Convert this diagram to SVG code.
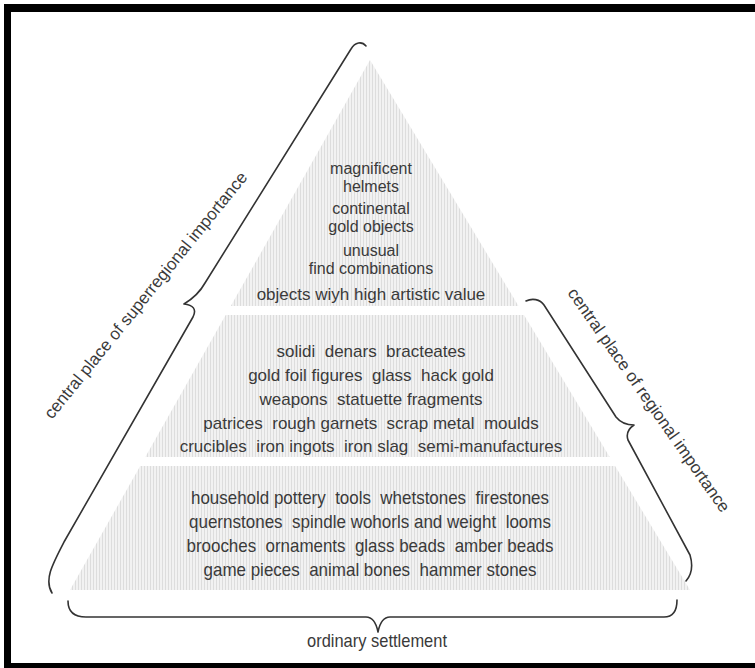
<svg xmlns="http://www.w3.org/2000/svg" width="755" height="668" viewBox="0 0 755 668">
<defs>
<pattern id="hatch" width="3" height="10" patternUnits="userSpaceOnUse">
<rect width="3" height="10" fill="#f2f2f2"/>
<rect width="1" height="10" fill="#dddddd"/>
</pattern>
<style>
.t{font-family:"Liberation Sans",Arial,sans-serif;font-size:17px;fill:#3a3a3a;text-anchor:middle}
.s{font-size:16px}
.n{font-family:"Liberation Sans Narrow","Liberation Sans",Arial,sans-serif;font-size:19px;fill:#3a3a3a;text-anchor:middle}
.lab{font-family:"Liberation Sans",Arial,sans-serif;font-size:17px;fill:#3a3a3a}
.brace{fill:none;stroke:#333;stroke-width:1.6;stroke-linecap:round;stroke-linejoin:round}
.band{fill:url(#hatch)}
</style>
</defs>
<rect width="755" height="668" fill="#fff"/>
<path id="frame" d="M4,4H755V12H11V663H755V668H4Z" fill="#000"/>

<g id="band-top">
<polygon class="band" points="370,60 518.5,306 230.8,306"/>
<text class="t s" x="371" y="174">magnificent</text>
<text class="t s" x="371" y="192">helmets</text>
<text class="t s" x="371" y="214">continental</text>
<text class="t s" x="371" y="232">gold objects</text>
<text class="t s" x="371" y="256">unusual</text>
<text class="t s" x="371" y="274">find combinations</text>
<text class="t" x="371" y="300">objects wiyh high artistic value</text>
</g>

<g id="band-middle">
<polygon class="band" points="225.7,315 524,315 609.7,457 145.3,457"/>
<text class="t" x="371" y="357" xml:space="preserve">solidi  denars  bracteates</text>
<text class="t" x="371" y="381" xml:space="preserve">gold foil figures  glass  hack gold</text>
<text class="t" x="371" y="405" xml:space="preserve">weapons  statuette fragments</text>
<text class="t" x="371" y="429" xml:space="preserve">patrices  rough garnets  scrap metal  moulds</text>
<text class="t" x="371" y="452" xml:space="preserve">crucibles  iron ingots  iron slag  semi-manufactures</text>
</g>

<g id="band-bottom">
<polygon class="band" points="140.2,466 615.1,466 690,590 70,590"/>
<text class="n" x="370" y="504" xml:space="preserve" textLength="358" lengthAdjust="spacingAndGlyphs">household pottery  tools  whetstones  firestones</text>
<text class="n" x="370" y="528" xml:space="preserve" textLength="362" lengthAdjust="spacingAndGlyphs">quernstones  spindle wohorls and weight  looms</text>
<text class="n" x="370" y="552" xml:space="preserve" textLength="367" lengthAdjust="spacingAndGlyphs">brooches  ornaments  glass beads  amber beads</text>
<text class="n" x="370" y="576" xml:space="preserve" textLength="333" lengthAdjust="spacingAndGlyphs">game pieces  animal bones  hammer stones</text>
</g>

<g id="connectors">
<path class="brace" d="M366,46 C362,41 355,42 351,49 L205,283 C200,292 194,298 184,304 C193,305 197,309 193,317 L64,542 C52,565 44,580 52,593"/>
<path class="brace" d="M526,301 C532,298 540,299 544,305 L616,417 C620,422 626,425 634,425 C628,429 626,434 628,440 L690,555 C693,565 692,574 686,581"/>
<path class="brace" d="M68,601 C68,612 74,617 86,617 L366,617 C372,617 376,622 378,632 C380,622 384,617 390,617 L664,617 C673,617 677,610 677,600"/>
</g>

<g id="label-superregional">
<text class="lab" transform="translate(52,420) rotate(-51)">central place of superregional importance</text>
</g>
<g id="label-regional">
<text class="lab" transform="translate(567,293) rotate(55)">central place of regional importance</text>
</g>
<g id="label-ordinary">
<text class="n" x="377" y="647" textLength="140" lengthAdjust="spacingAndGlyphs">ordinary settlement</text>
</g>
</svg>
